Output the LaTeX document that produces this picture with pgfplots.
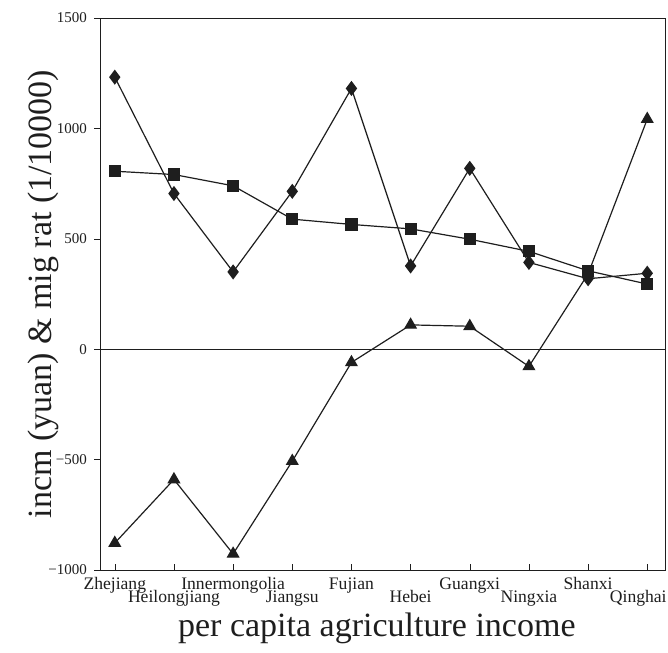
\documentclass[border=0pt]{standalone}
\usepackage{pgfplots}
\pgfplotsset{compat=1.18}
\usepackage{fontspec}
\setmainfont{Liberation Serif}
\definecolor{ink}{HTML}{1E1E1E}
\begin{document}
\begin{tikzpicture}
\useasboundingbox (-50pt,-41pt) rectangle (284pt,285pt);
\begin{axis}[
  at={(0,0)}, anchor=south west,
  scale only axis, width=282.5pt, height=276pt,
  xmin=-0.25, xmax=9.3, ymin=-1000, ymax=1500,
  xtick={0,...,9},
  xticklabels={
    \rule{0pt}{6pt}Zhejiang,
    \rule{0pt}{12.5pt}Heilongjiang,
    \rule{0pt}{6pt}Innermongolia,
    \rule{0pt}{12.5pt}Jiangsu,
    \rule{0pt}{6pt}Fujian,
    \rule{0pt}{12.5pt}Hebei,
    \rule{0pt}{6pt}Guangxi,
    \rule{0pt}{12.5pt}Ningxia,
    \rule{0pt}{6pt}Shanxi,
    \rule{0pt}{12.5pt}\hspace*{-9pt}Qinghai},
  ytick={-1000,-500,0,500,1000,1500},
  yticklabels={−1000,−500,0,500,1000,1500},
  xtick pos=bottom, ytick pos=left,
  major tick length=3pt,
  y tick style={xshift=-3pt, ink},
  x tick style={ink},
  xticklabel style={font=\fontsize{8.8}{9}\selectfont, text=ink},
  yticklabel style={font=\fontsize{7.5}{9}\selectfont, text=ink, xshift=-3pt},
  axis line style={ink, line width=0.45pt},
  xlabel={per capita agriculture income},
  ylabel={incm (yuan) \& mig rat (1/10000)},
  every axis x label/.style={at={(axis description cs:0.49,-0.121)}, anchor=base, font=\fontsize{17}{20}\selectfont, text=ink},
  every axis y label/.style={at={(axis description cs:-0.1,0.5)}, anchor=center, rotate=90, font=\fontsize{17}{20}\selectfont, text=ink},
  clip=false,
]
\addplot[ink, line width=0.4pt, forget plot] coordinates {(-0.25,0) (9.3,0)};
\addplot[ink, line width=0.6pt, mark=diamond*, mark size=3.3pt, mark options={fill=ink}] coordinates {
 (0,1232) (1,705) (2,350) (3,715) (4,1181) (5,377) (6,819) (7,393) (8,319) (9,344)};
\addplot[ink, line width=0.6pt, mark=square*, mark size=2.75pt, mark options={fill=ink}] coordinates {
 (0,806) (1,791) (2,740) (3,589) (4,565) (5,545) (6,498) (7,443) (8,355) (9,295)};
\addplot[ink, line width=0.6pt, mark=triangle*, mark size=3.2pt, mark options={fill=ink}] coordinates {
 (0,-878) (1,-590) (2,-927) (3,-507) (4,-60) (5,110) (6,104) (7,-78) (8,341) (9,1042)};
\end{axis}
\end{tikzpicture}
\end{document}
